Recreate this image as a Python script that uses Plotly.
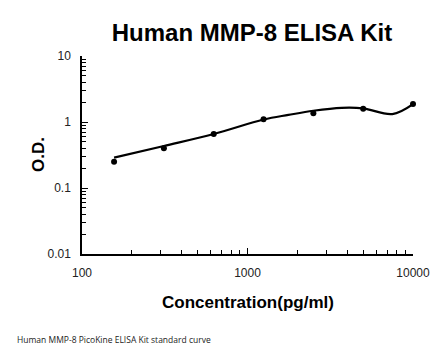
import plotly.graph_objects as go

# Standard points (concentration pg/ml, O.D.)
conc = [156.25, 312.5, 625, 1250, 2500, 5000, 10000]
od = [0.25, 0.40, 0.66, 1.10, 1.36, 1.59, 1.87]

# Fitted curve
curve_conc = [156.25, 312.5, 625, 1250, 1768, 2500, 3700, 5000, 7500, 10000]
curve_od = [0.288, 0.433, 0.658, 1.09, 1.28, 1.48, 1.64, 1.61, 1.32, 1.87]

x_tickvals = [100, 1000, 10000]
x_ticktext = ["100", "1000", "10000"]
y_tickvals = [0.01, 0.1, 1, 10]
y_ticktext = ["0.01", "0.1", "1", "10"]

title_text = "Human MMP-8 ELISA Kit"
x_title = "Concentration(pg/ml)"
y_title = "O.D."
caption = "Human MMP-8 PicoKine ELISA Kit standard curve"

fig = go.Figure()
fig.add_trace(go.Scatter(
    x=curve_conc, y=curve_od, mode="lines",
    line=dict(color="black", width=2.2, shape="spline", smoothing=1.0),
    hoverinfo="skip", showlegend=False, cliponaxis=False))
fig.add_trace(go.Scatter(
    x=conc, y=od, mode="markers",
    marker=dict(color="black", size=6), showlegend=False, cliponaxis=False))

W, H = 446, 356
L, R, T, B = 82, 33, 56, 102

axis_common = dict(
    showline=True, linecolor="black", linewidth=1.5,
    showgrid=False, zeroline=False,
    ticks="inside", ticklen=6, tickwidth=1, tickcolor="black",
    tickfont=dict(family="Liberation Sans, Arial", size=12, color="#222"),
    minor=dict(ticks="inside", ticklen=4, tickwidth=1, tickcolor="black",
               dtick="D1", showgrid=False),
)

fig.update_xaxes(type="log", range=[2, 4], tickvals=x_tickvals,
                 ticktext=x_ticktext, ticklabelstandoff=7, **axis_common)
fig.update_yaxes(type="log", range=[-2, 1], tickvals=y_tickvals,
                 ticktext=y_ticktext, ticklabelstandoff=7, **axis_common)

annotations = [
    dict(text=f"<b>{x_title}</b>", xref="paper", yref="paper",
         x=(248 - L) / (W - L - R), y=-(302 - (H - B)) / (H - T - B),
         xanchor="center", yanchor="middle", showarrow=False,
         font=dict(family="Liberation Sans, Arial", size=17, color="black")),
    dict(text=f"<b>{y_title}</b>", xref="paper", yref="paper",
         x=(38 - L) / (W - L - R), y=0.5, textangle=-90,
         xanchor="center", yanchor="middle", showarrow=False,
         font=dict(family="Liberation Sans, Arial", size=17, color="black")),
    dict(text=caption, xref="paper", yref="paper",
         x=(15 - L) / (W - L - R), y=-(339 - (H - B)) / (H - T - B),
         xanchor="left", yanchor="middle", showarrow=False,
         font=dict(family="Open Sans", size=8.5, color="#222")),
]

fig.update_layout(
    width=W, height=H,
    margin=dict(l=L, r=R, t=T, b=B, autoexpand=False),
    paper_bgcolor="white", plot_bgcolor="white",
    title=dict(text=f"<b>{title_text}</b>", xref="container", yref="container",
               x=252 / W, y=1 - 33 / H, xanchor="center", yanchor="middle",
               font=dict(family="Liberation Sans, Arial", size=24, color="black")),
    annotations=annotations,
    showlegend=False,
)

fig.write_html("out.html",
               config={"displayModeBar": False},
               post_script="document.body.style.margin='0';document.body.style.overflow='hidden';")
